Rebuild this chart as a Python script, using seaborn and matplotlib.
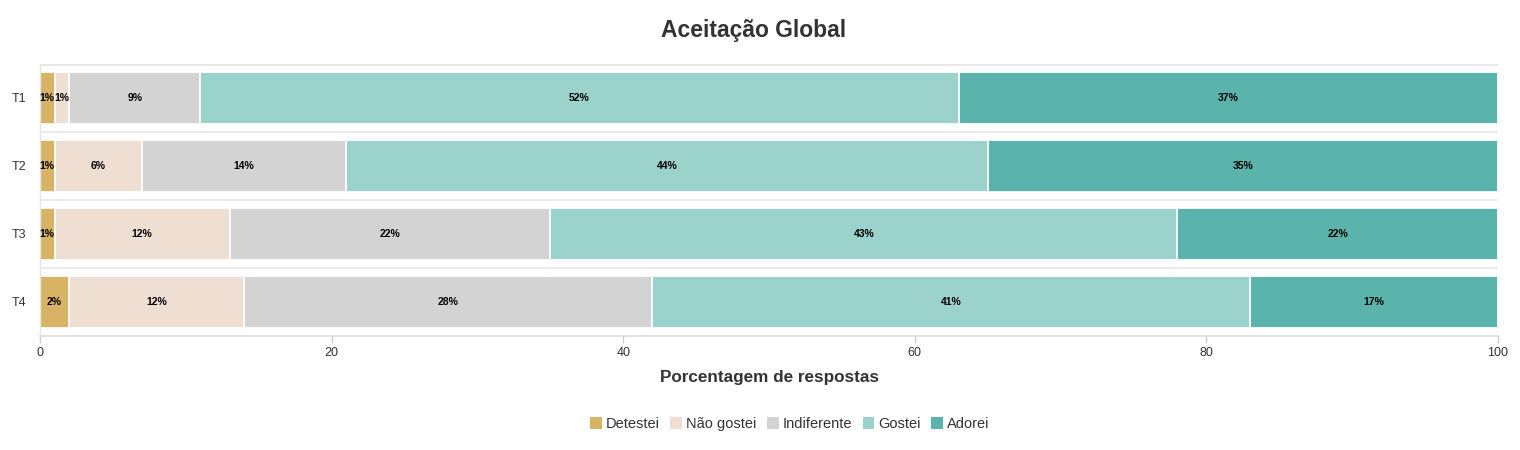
import matplotlib
matplotlib.use("Agg")
import matplotlib.pyplot as plt
import seaborn as sns
import numpy as np
import pandas as pd
from matplotlib.patches import Patch

# ---- data ----
tratamentos = ["T1", "T2", "T3", "T4"]
categorias = ["Detestei", "Não gostei", "Indiferente", "Gostei", "Adorei"]
detestei = [1, 1, 1, 2]
nao_gostei = [1, 6, 12, 12]
indiferente = [9, 14, 22, 28]
gostei = [52, 44, 43, 41]
adorei = [37, 35, 22, 17]
cores = ["#d8b365", "#efdfd2", "#d3d3d3", "#9bd2cb", "#5ab4ac"]

series = [detestei, nao_gostei, indiferente, gostei, adorei]

sns.set_theme(style="white")
plt.rcParams["font.family"] = ["Liberation Sans", "DejaVu Sans"]

fig = plt.figure(figsize=(15.2, 4.5), dpi=100)
ax = fig.add_axes([40 / 1520, 1 - 336 / 450, (1498 - 40) / 1520, (336 - 64) / 450])

vals = np.array(series, dtype=float)
cum = np.cumsum(vals, axis=0)

# draw cumulative bars from largest to smallest so segments stack
for i in range(len(categorias) - 1, -1, -1):
    df = pd.DataFrame({"trat": tratamentos, "v": cum[i]})
    sns.barplot(data=df, x="v", y="trat", orient="h", color=cores[i],
                saturation=1, width=0.77, edgecolor="white", linewidth=1.3,
                ax=ax, zorder=2)

# labels
for i in range(len(categorias)):
    left = cum[i] - vals[i]
    for j, t in enumerate(tratamentos):
        ax.text(left[j] + vals[i][j] / 2, j, f"{int(vals[i][j])}%",
                ha="center", va="center", fontsize=7.5, fontweight="bold",
                color="black", zorder=5)

ax.set_xlim(0, 100)
ax.set_ylim(3.5, -0.5)
ax.set_xticks([0, 20, 40, 60, 80, 100])
ax.tick_params(axis="x", length=5, width=1, color="#cccccc", labelsize=9,
               labelcolor="#333333", pad=3, bottom=True)
ax.tick_params(axis="y", length=0, labelsize=9, labelcolor="#333333", pad=10)

for b in [0.5, 1.5, 2.5]:
    ax.axhline(b, color="#e6e6e6", lw=1.2, zorder=1)
ax.axhline(-0.5, color="#e6e6e6", lw=2, zorder=1)

for s in ["top", "right"]:
    ax.spines[s].set_visible(False)
ax.spines["left"].set_color("#e6e6e6")
ax.spines["left"].set_linewidth(1)
ax.spines["bottom"].set_color("#dddddd")
ax.spines["bottom"].set_linewidth(1.2)

ax.set_ylabel("")
ax.set_xlabel("Porcentagem de respostas", fontsize=12.3, fontweight="bold",
              color="#333333", labelpad=8)

fig.text(754 / 1520, 1 - 31 / 450, "Aceitação Global", ha="center", va="center",
         fontsize=16.5, fontweight="bold", color="#333333")

handles = [Patch(facecolor=c, edgecolor="none", label=l) for c, l in zip(cores, categorias)]
fig.legend(handles=handles, loc="center", bbox_to_anchor=(790 / 1520, 1 - 424 / 450),
           ncol=5, frameon=False, fontsize=10.5, handlelength=0.8, handleheight=0.8,
           handletextpad=0.3, columnspacing=0.7, labelcolor="#333333")

fig.savefig("out.png", dpi=100)
